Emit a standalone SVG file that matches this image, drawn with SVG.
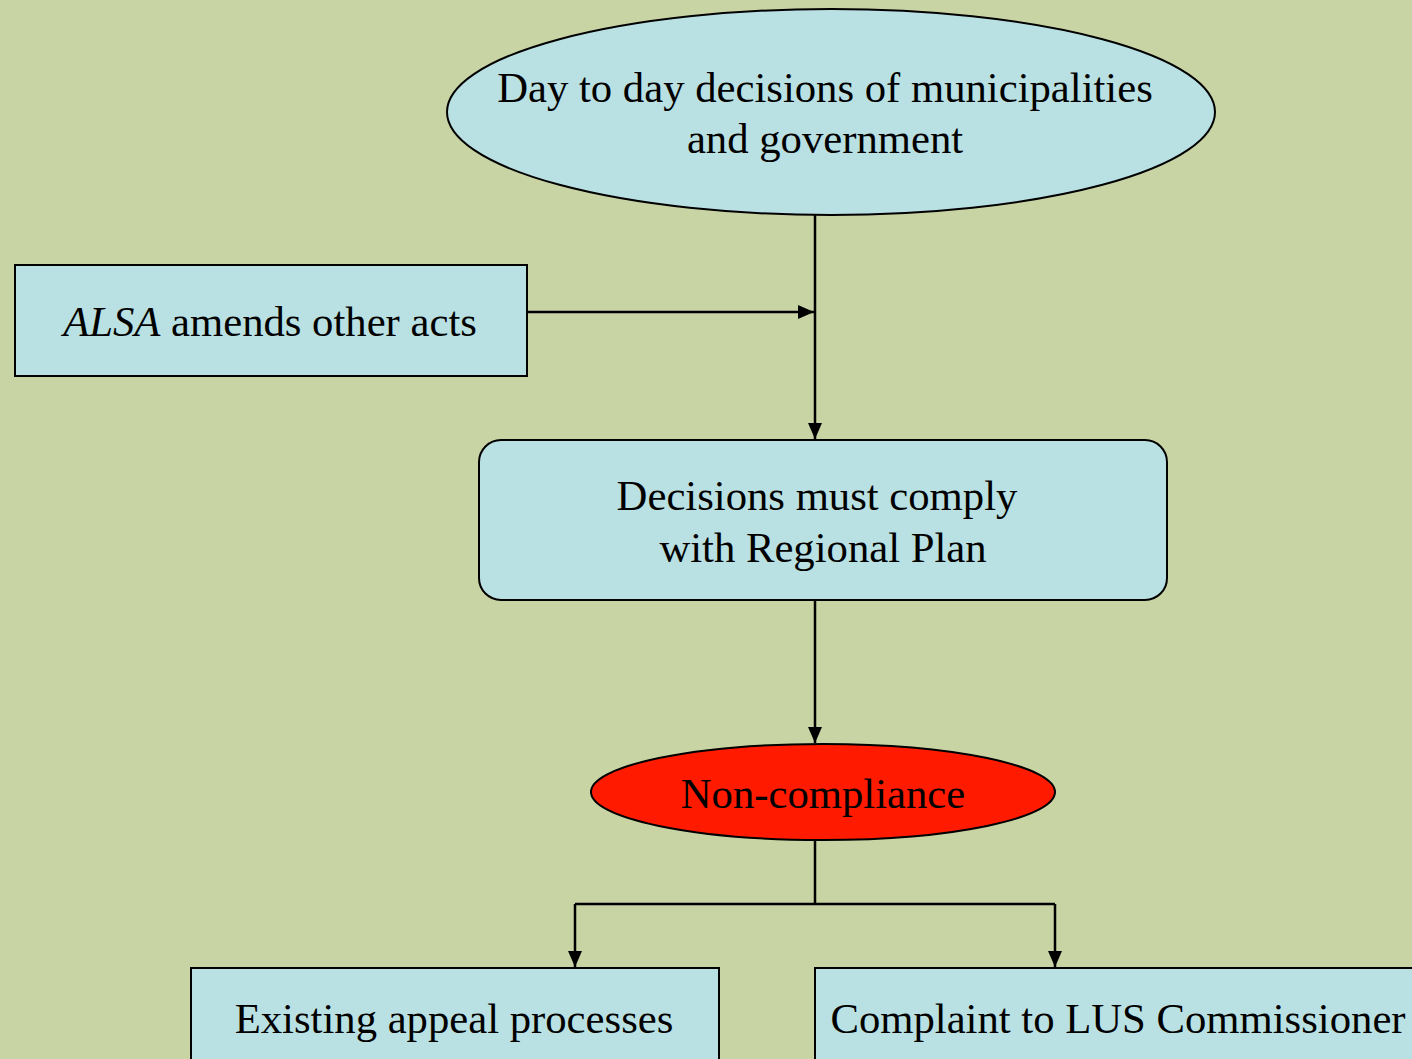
<svg xmlns="http://www.w3.org/2000/svg" width="1412" height="1059" viewBox="0 0 1412 1059">
<style>
.node{fill:#B9E0E2;stroke:#000;stroke-width:2}
.t{font-family:"Liberation Serif","Times New Roman",serif;font-size:42.7px;fill:#000;text-anchor:middle}
.c{fill:none;stroke:#000;stroke-width:2.5}
</style>
<defs>
<marker id="ah" markerUnits="userSpaceOnUse" markerWidth="16" markerHeight="16" viewBox="0 0 16 16" refX="16" refY="8" orient="auto">
<path d="M0,1 L16,8 L0,15 Z" fill="#000"/>
</marker>
</defs>
<rect width="1412" height="1059" fill="#C8D4A3"/>
<g id="connectors">
<line class="c" x1="815" y1="215" x2="815" y2="439" marker-end="url(#ah)"/>
<line class="c" x1="527" y1="312" x2="814" y2="312" marker-end="url(#ah)"/>
<line class="c" x1="815" y1="600" x2="815" y2="743" marker-end="url(#ah)"/>
<polyline class="c" points="815,840 815,904"/>
<polyline class="c" points="575,904 1055,904"/>
<line class="c" x1="575" y1="904" x2="575" y2="967" marker-end="url(#ah)"/>
<line class="c" x1="1055" y1="904" x2="1055" y2="967" marker-end="url(#ah)"/>
</g>
<g id="day-to-day">
<ellipse class="node" cx="831" cy="112" rx="384" ry="103"/>
<text class="t" x="825" y="102">Day to day decisions of municipalities</text>
<text class="t" x="825" y="153">and government</text>
</g>
<g id="alsa">
<rect class="node" x="15" y="265" width="512" height="111"/>
<text class="t" x="270" y="336"><tspan font-style="italic">ALSA</tspan> amends other acts</text>
</g>
<g id="comply">
<rect class="node" x="479" y="440" width="688" height="160" rx="22" ry="22"/>
<text class="t" x="817" y="510">Decisions must comply</text>
<text class="t" x="823" y="562">with Regional Plan</text>
</g>
<g id="noncompliance">
<ellipse cx="823" cy="792" rx="232" ry="48" fill="#FF1A00" stroke="#000" stroke-width="2"/>
<text class="t" x="823" y="808">Non-compliance</text>
</g>
<g id="appeal">
<rect class="node" x="191" y="968" width="528" height="110"/>
<text class="t" x="454" y="1033">Existing appeal processes</text>
</g>
<g id="complaint">
<rect class="node" x="815" y="968" width="620" height="110"/>
<text class="t" x="1118" y="1033">Complaint to LUS Commissioner</text>
</g>
</svg>
